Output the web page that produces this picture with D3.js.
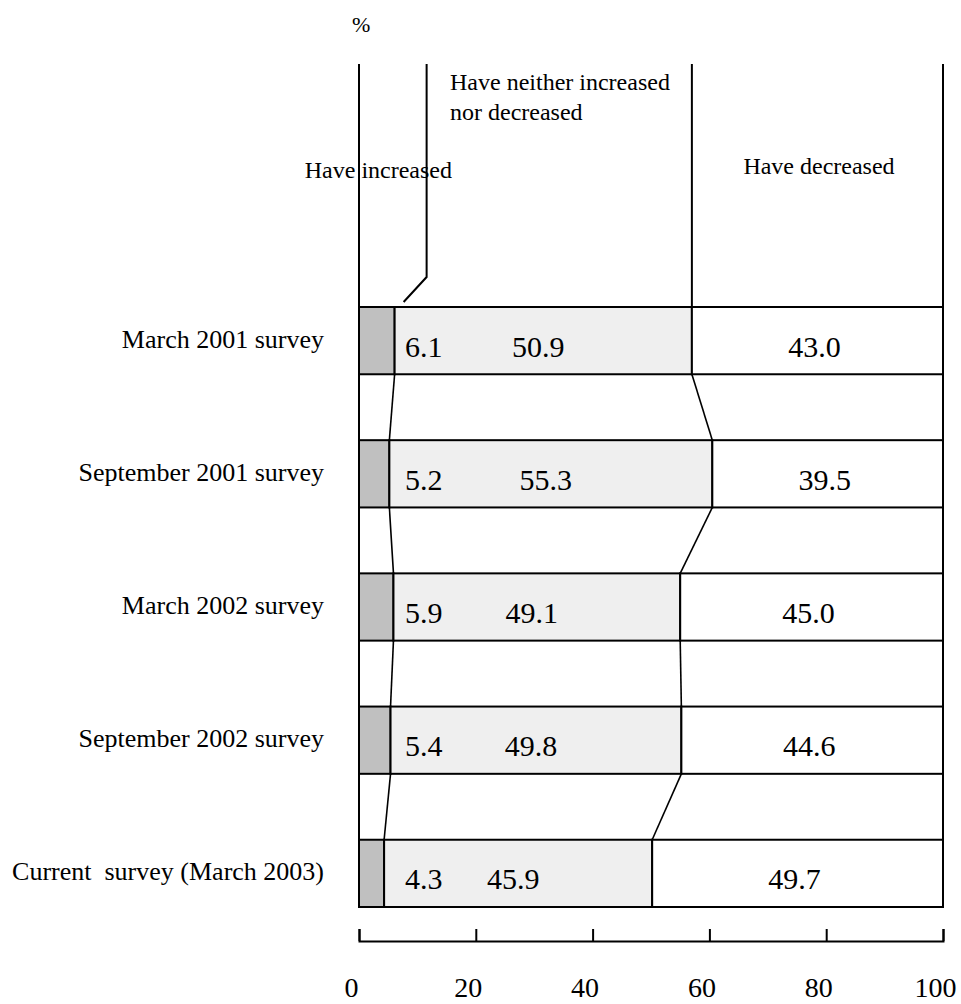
<!DOCTYPE html>
<html>
<head>
<meta charset="utf-8">
<script src="https://cdn.jsdelivr.net/npm/d3@7"></script>
<style>
  html, body { margin: 0; padding: 0; background: #fff; }
  svg { display: block; font-family: "Liberation Serif", "Times New Roman", serif; }
  svg text { font-family: "Liberation Serif", "Times New Roman", serif !important; fill: #000; }
</style>
</head>
<body>
<svg id="chart" width="961" height="1004"></svg>
<script>
const categories = ["March 2001 survey", "September 2001 survey", "March 2002 survey", "September 2002 survey", "Current  survey (March 2003)"];
const increased = [6.1, 5.2, 5.9, 5.4, 4.3];
const neither = [50.9, 55.3, 49.1, 49.8, 45.9];
const decreased = [43.0, 39.5, 45.0, 44.6, 49.7];
const xTicks = [0, 20, 40, 60, 80, 100];
const seriesNames = ["Have increased", ["Have neither increased", "nor decreased"], "Have decreased"];
const unitLabel = "%";

const FONT = '"Liberation Serif", "Times New Roman", serif';
const svg = d3.select("#chart");
const x = d3.scaleLinear().domain([0, 100]).range([359, 943]);
const y = d3.scaleBand().domain(categories).range([307, 907]).paddingInner(0.495).paddingOuter(0);
const bw = y.bandwidth();
const topY = 64;

const rows = categories.map((c, i) => ({
  cat: c, inc: increased[i], nei: neither[i], dec: decreased[i],
  c1: increased[i], c2: increased[i] + neither[i], c3: increased[i] + neither[i] + decreased[i]
}));

const lineStyle = sel => sel.attr("stroke", "#000").attr("stroke-width", 2).attr("fill", "none");
const txt = (sel, size) => sel.attr("font-size", size).style("font-family", FONT).attr("fill", "#000");

// Left and right frame lines
svg.append("line").attr("x1", x(0)).attr("x2", x(0)).attr("y1", topY).attr("y2", y(categories[4]) + bw).call(lineStyle);
svg.append("line").attr("x1", x(100)).attr("x2", x(100)).attr("y1", topY).attr("y2", y(categories[4]) + bw).call(lineStyle);

// Top vertical separator for first row boundary
svg.append("line").attr("x1", x(rows[0].c2)).attr("x2", x(rows[0].c2)).attr("y1", topY).attr("y2", y(categories[0])).call(lineStyle);

// Leader line for "Have increased"
svg.append("path")
  .attr("d", d3.line()([
    [x(rows[0].c1) + 32, topY],
    [x(rows[0].c1) + 32, y(categories[0]) - 30],
    [x(rows[0].c1) + 9, y(categories[0]) - 5]
  ]))
  .call(lineStyle);

// Connector lines between rows
for (let i = 0; i < rows.length - 1; i++) {
  const yb = y(rows[i].cat) + bw, yt = y(rows[i + 1].cat);
  ["c1", "c2"].forEach(k => {
    svg.append("line")
      .attr("x1", x(rows[i][k])).attr("y1", yb)
      .attr("x2", x(rows[i + 1][k])).attr("y2", yt)
      .attr("stroke", "#000").attr("stroke-width", 1.6);
  });
}

// Bars
const g = svg.append("g");
rows.forEach(r => {
  const yy = y(r.cat);
  g.append("rect").attr("x", x(0)).attr("y", yy).attr("width", x(r.c1) - x(0)).attr("height", bw)
    .attr("fill", "#c0c0c0").attr("stroke", "#000").attr("stroke-width", 2);
  g.append("rect").attr("x", x(r.c1)).attr("y", yy).attr("width", x(r.c2) - x(r.c1)).attr("height", bw)
    .attr("fill", "#efefef").attr("stroke", "#000").attr("stroke-width", 2);
  g.append("rect").attr("x", x(r.c2)).attr("y", yy).attr("width", x(100) - x(r.c2)).attr("height", bw)
    .attr("fill", "#ffffff").attr("stroke", "#000").attr("stroke-width", 2);

  const ty = yy + bw / 2 + 16;
  g.append("text").attr("x", x(0) + 46).attr("y", ty).call(txt, 30).text(r.inc.toFixed(1));
  g.append("text").attr("x", (x(r.c1) + x(r.c2)) / 2 - 5).attr("y", ty).call(txt, 30)
    .attr("text-anchor", "middle").text(r.nei.toFixed(1));
  g.append("text").attr("x", (x(r.c2) + x(100)) / 2 - 3).attr("y", ty).call(txt, 30)
    .attr("text-anchor", "middle").text(r.dec.toFixed(1));

  // Category label
  svg.append("text").attr("x", 324).attr("y", yy + bw / 2 + 7).call(txt, 26)
    .attr("text-anchor", "end").style("white-space", "pre").text(r.cat);
});

// Series labels
svg.append("text").attr("x", 452).attr("y", 178).call(txt, 24).attr("text-anchor", "end").text(seriesNames[0]);
svg.append("text").attr("x", 450).attr("y", 90).call(txt, 24).text(seriesNames[1][0]);
svg.append("text").attr("x", 450).attr("y", 120).call(txt, 24).text(seriesNames[1][1]);
svg.append("text").attr("x", 819).attr("y", 174).call(txt, 24).attr("text-anchor", "middle").text(seriesNames[2]);

// Unit label
svg.append("text").attr("x", 352).attr("y", 32).call(txt, 22).text(unitLabel);

// Axis
const axis = d3.axisBottom(x).tickValues(xTicks).tickSizeInner(-12).tickSizeOuter(-12).tickPadding(36).tickFormat(d3.format("d"));
const ax = svg.append("g").attr("transform", "translate(0,941)").call(axis);
ax.attr("font-family", null).attr("font-size", null);
ax.select(".domain").attr("stroke", "#000").attr("stroke-width", 2);
ax.selectAll(".tick line").attr("stroke", "#000").attr("stroke-width", 2);
ax.selectAll(".tick text").call(txt, 28).attr("dx", -8);
</script>
</body>
</html>
